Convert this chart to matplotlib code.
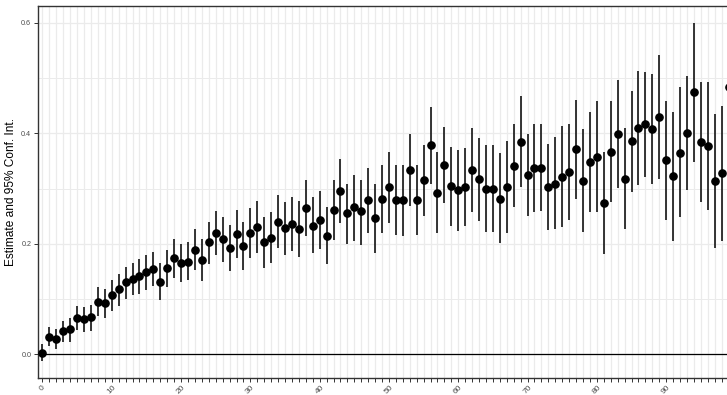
"""Point estimates with 95% confidence intervals, one per step (0-99)."""
import matplotlib
matplotlib.use("Agg")
import matplotlib.pyplot as plt
import numpy as np

steps = list(range(100))

estimate = [0.003, 0.032, 0.027, 0.042, 0.045, 0.066, 0.064, 0.067, 0.095, 0.093,
            0.108, 0.118, 0.130, 0.136, 0.142, 0.149, 0.155, 0.131, 0.156, 0.174,
            0.165, 0.168, 0.189, 0.171, 0.203, 0.220, 0.209, 0.192, 0.217, 0.196,
            0.220, 0.231, 0.203, 0.211, 0.240, 0.228, 0.236, 0.227, 0.265, 0.233,
            0.244, 0.215, 0.261, 0.295, 0.255, 0.266, 0.259, 0.279, 0.247, 0.282,
            0.302, 0.279, 0.279, 0.333, 0.279, 0.316, 0.379, 0.292, 0.342, 0.304,
            0.297, 0.303, 0.333, 0.318, 0.300, 0.299, 0.282, 0.303, 0.341, 0.385,
            0.324, 0.337, 0.338, 0.302, 0.309, 0.321, 0.330, 0.371, 0.314, 0.348,
            0.358, 0.273, 0.367, 0.399, 0.318, 0.386, 0.409, 0.417, 0.407, 0.429,
            0.351, 0.323, 0.365, 0.400, 0.474, 0.385, 0.377, 0.314, 0.328, 0.483]

ci_low = [-0.012, 0.015, 0.009, 0.022, 0.023, 0.044, 0.041, 0.043, 0.069, 0.066,
          0.079, 0.088, 0.101, 0.107, 0.110, 0.116, 0.124, 0.098, 0.122, 0.139,
          0.130, 0.134, 0.153, 0.133, 0.163, 0.180, 0.168, 0.151, 0.174, 0.153,
          0.175, 0.184, 0.157, 0.165, 0.192, 0.180, 0.187, 0.177, 0.214, 0.183,
          0.191, 0.163, 0.207, 0.237, 0.200, 0.206, 0.198, 0.219, 0.183, 0.219,
          0.238, 0.216, 0.215, 0.268, 0.216, 0.251, 0.309, 0.219, 0.273, 0.232,
          0.224, 0.232, 0.258, 0.242, 0.222, 0.221, 0.201, 0.219, 0.266, 0.302,
          0.251, 0.258, 0.260, 0.225, 0.226, 0.230, 0.244, 0.282, 0.222, 0.258,
          0.257, 0.181, 0.276, 0.301, 0.227, 0.294, 0.306, 0.321, 0.308, 0.317,
          0.243, 0.206, 0.248, 0.297, 0.348, 0.276, 0.261, 0.192, 0.206, 0.370]

ci_high = [0.018, 0.049, 0.045, 0.060, 0.065, 0.088, 0.086, 0.090, 0.121, 0.118,
           0.134, 0.145, 0.158, 0.166, 0.172, 0.179, 0.186, 0.165, 0.189, 0.209,
           0.200, 0.204, 0.226, 0.208, 0.240, 0.259, 0.249, 0.234, 0.261, 0.239,
           0.264, 0.277, 0.249, 0.257, 0.288, 0.276, 0.284, 0.277, 0.315, 0.284,
           0.295, 0.267, 0.315, 0.353, 0.309, 0.325, 0.315, 0.337, 0.308, 0.343,
           0.366, 0.342, 0.342, 0.399, 0.342, 0.379, 0.448, 0.366, 0.411, 0.376,
           0.370, 0.374, 0.409, 0.392, 0.379, 0.379, 0.364, 0.386, 0.417, 0.468,
           0.399, 0.417, 0.417, 0.380, 0.393, 0.413, 0.417, 0.460, 0.407, 0.439,
           0.458, 0.367, 0.458, 0.496, 0.409, 0.477, 0.513, 0.511, 0.507, 0.542,
           0.458, 0.439, 0.483, 0.504, 0.599, 0.492, 0.493, 0.435, 0.450, 0.596]

y_ticks = [0.0, 0.2, 0.4, 0.6]
y_minor = [0.1, 0.3, 0.5]

plt.rcParams['font.family'] = ['Liberation Sans', 'DejaVu Sans']

fig = plt.figure(figsize=(7.27, 3.95), dpi=100)
# panel runs slightly past the right edge of the image, as in the reference
ax = fig.add_axes([38.3 / 727, 16.7 / 395, 694.4 / 727, 372.6 / 395])

x = np.array(steps)
est = np.array(estimate)
lo = np.array(ci_low)
hi = np.array(ci_high)

ax.axhline(0, color='black', lw=0.9, zorder=2)
ax.vlines(x, lo, hi, color='black', lw=1.1, zorder=3)
ax.plot(x, est, 'o', color='black', markersize=5.2, zorder=4)

ax.set_xlim(-0.6, 99.6)
ax.set_ylim(-0.0434, 0.631)

# discrete x axis: a tick per step, labelled every 10
ax.set_xticks(steps)
ax.set_xticklabels([str(s) if s % 10 == 0 else '' for s in steps],
                   rotation=45, ha='center', va='top', fontsize=6, color='#4D4D4D')
ax.set_yticks(y_ticks)
ax.set_yticks(y_minor, minor=True)
ax.set_yticklabels(['0.0', '0.2', '0.4', '0.6'], fontsize=5.2, color='#4D4D4D')

ax.tick_params(axis='both', which='major', length=3, width=0.7, color='#333333', pad=2)
ax.tick_params(axis='x', which='major', pad=1.0)
ax.tick_params(axis='y', which='minor', length=0)

ax.grid(True, which='major', color='#EBEBEB', lw=0.9, zorder=0)
ax.grid(True, which='minor', axis='y', color='#EBEBEB', lw=0.7, zorder=0)
ax.set_axisbelow(True)

for side in ['top', 'bottom', 'left', 'right']:
    ax.spines[side].set_color('#333333')
    ax.spines[side].set_linewidth(1.0)

ax.set_ylabel('Estimate and 95% Conf. Int.', fontsize=8.6, color='black')
ax.yaxis.set_label_coords(-21 / 694.4, 0.5)

fig.savefig('out.png', dpi=100)
plt.close(fig)
